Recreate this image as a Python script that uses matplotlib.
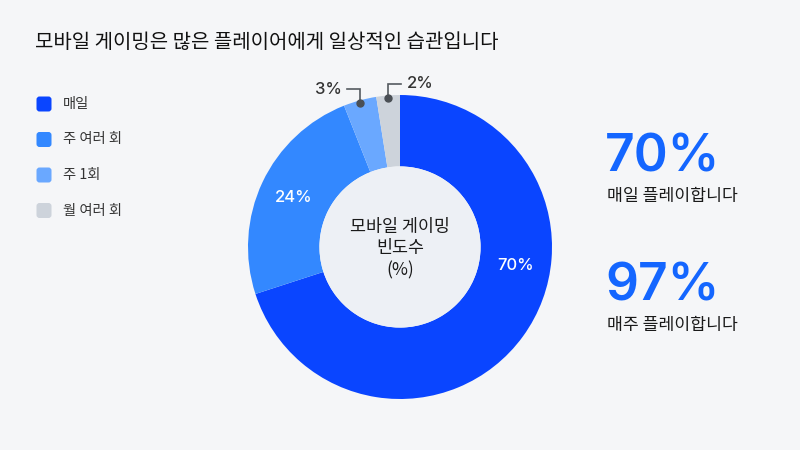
import numpy as np
import matplotlib
matplotlib.use('Agg')
import matplotlib.pyplot as plt
from matplotlib.patches import FancyBboxPatch, Circle

plt.rcParams['font.family'] = ['Noto Sans CJK KR', 'DejaVu Sans']

# data
title = '모바일 게이밍은 많은 플레이어에게 일상적인 습관입니다'
categories = ['매일', '주 여러 회', '주 1회', '월 여러 회']
values = [70, 24, 3.5, 2.5]
value_labels = ['70%', '24%', '3%', '2%']
center_label = '모바일 게이밍\n빈도수\n(%)'
stat_values = ['70%', '97%']
stat_texts = ['매일 플레이합니다', '매주 플레이합니다']

colors = ['#0A45FF', '#3388FF', '#6AA8FF', '#CDD3DB']
bg = '#F5F6F8'
W, H = 800, 450
latin = ['Inter', 'DejaVu Sans']

fig = plt.figure(figsize=(8, 4.5), dpi=100, facecolor=bg)

# overlay in pixel coords
ov = fig.add_axes([0, 0, 1, 1])
ov.set_xlim(0, W)
ov.set_ylim(H, 0)
ov.axis('off')

ov.text(35, 42, title, fontsize=14.4, color='#111111', va='center', ha='left',
        fontweight='medium')

# legend
for i, (cat, col) in enumerate(zip(categories, colors)):
    yc = 104 + i * 35.5
    box = FancyBboxPatch((36.5, yc - 7.5), 15, 15,
                         boxstyle='round,pad=0,rounding_size=3',
                         fc=col, ec='none')
    ov.add_patch(box)
    ov.text(63, yc, cat, fontsize=10.3, color='#333333', va='center', ha='left',
            fontweight='medium')

# donut
cx, cy, R = 400, 247, 152
ax = fig.add_axes([(cx - R) / W, (H - cy - R) / H, 2 * R / W, 2 * R / H])
wedges, _ = ax.pie(values, colors=colors, startangle=90, counterclock=False,
                   radius=1, wedgeprops=dict(width=0.47, linewidth=0))
ax.set_xlim(-1, 1)
ax.set_ylim(-1, 1)
ax.set_aspect('equal')
ax.axis('off')
ax.add_patch(Circle((0, 0), 0.53, fc='#EDF0F5', ec='none'))
ax.text(0, -0.01, center_label, ha='center', va='center', fontsize=12.5,
        color='#1A1A1A', linespacing=1.25, fontweight='medium')

# inside labels (70%, 24%)
label_frac = [0.275, None]
for i in range(2):
    w = wedges[i]
    if label_frac[i] is not None:
        ang = 90 - 360 * label_frac[i]
    else:
        ang = (w.theta1 + w.theta2) / 2
    r = 0.77
    ax.text(r * np.cos(np.radians(ang)), r * np.sin(np.radians(ang)),
            value_labels[i], ha='center', va='center', fontsize=12,
            color='white', family=latin, fontweight='medium')

# outside labels with leader lines (3%, 2%)
px = 1.0 / R
for i, side in [(2, -1), (3, 1)]:
    w = wedges[i]
    ang = np.radians((w.theta1 + w.theta2) / 2)
    x0, y0 = 0.985 * np.cos(ang), 0.985 * np.sin(ang)
    ytop = y0 + 14 * px if i == 3 else y0 + 13.5 * px
    x1 = x0 + side * 13 * px
    ax.plot([x0, x0, x1], [y0, ytop, ytop], color='#555a60', lw=1.2,
            clip_on=False, solid_joinstyle='miter')
    ax.plot([x0], [y0], 'o', ms=5, color='#4a4f55', clip_on=False)
    ax.text(x1 + side * 6 * px, ytop, value_labels[i],
            ha='left' if side > 0 else 'right', va='center', fontsize=12,
            color='#333333', family=latin, fontweight='medium')

# stats on the right
for i, (sv, st) in enumerate(zip(stat_values, stat_texts)):
    y0 = 158 + i * 129
    ov.text(605, y0, sv, fontsize=37, color='#1466FF', va='center', ha='left',
            family=latin, fontweight='semibold')
    ov.text(607, y0 + 38, st, fontsize=12.4, color='#1A1A1A', va='center',
            ha='left', fontweight='medium')

fig.savefig('out.png', dpi=100, facecolor=bg)
